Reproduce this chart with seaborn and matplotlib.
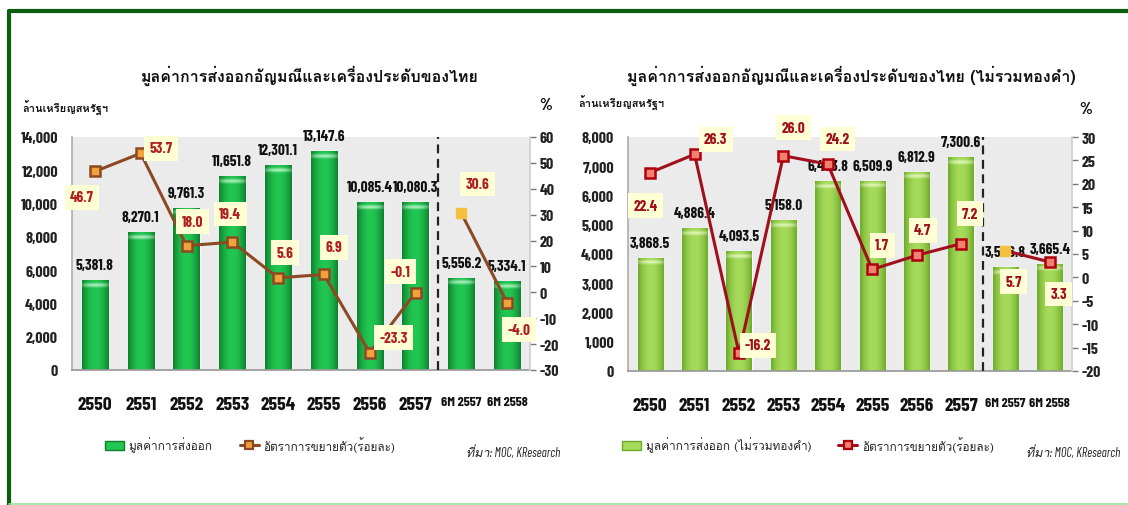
import numpy as np
import pandas as pd
import matplotlib
matplotlib.use("Agg")
import matplotlib.pyplot as plt
import matplotlib.colors as mcolors
import seaborn as sns
from matplotlib import font_manager
from matplotlib.ft2font import FT2Font
from matplotlib.lines import Line2D
from matplotlib.patches import Patch

# ---- data -------------------------------------------------------------
periods = ["2550", "2551", "2552", "2553", "2554", "2555", "2556", "2557",
           "6M 2557", "6M 2558"]
export_all = [5381.8, 8270.1, 9761.3, 11651.8, 12301.1, 13147.6, 10085.4,
              10080.3, 5556.2, 5334.1]
growth_all = [46.7, 53.7, 18.0, 19.4, 5.6, 6.9, -23.3, -0.1, 30.6, -4.0]
export_ex_gold = [3868.5, 4886.4, 4093.5, 5158.0, 6493.8, 6509.9, 6812.9,
                  7300.6, 3546.8, 3665.4]
growth_ex_gold = [22.4, 26.3, -16.2, 26.0, 24.2, 1.7, 4.7, 7.2, 5.7, 3.3]

title_all = "มูลค่าการส่งออกอัญมณีและเครื่องประดับของไทย"
title_ex_gold = "มูลค่าการส่งออกอัญมณีและเครื่องประดับของไทย (ไม่รวมทองคำ)"
unit_label = "ล้านเหรียญสหรัฐฯ"
legend_bar_all = "มูลค่าการส่งออก"
legend_bar_ex_gold = "มูลค่าการส่งออก (ไม่รวมทองคำ)"
legend_line = "อัตราการขยายตัว(ร้อยละ)"
source_note = "ที่มา: MOC, KResearch"

# pixel offsets of the growth-rate tags from their markers
tag_offsets_all = [(-13, -26), (20, 5), (6, 24), (-2, 28), (7, 25), (10, 27),
                   (24, 15), (-15, 21), (16, 29), (12, -27)]
tag_offsets_ex_gold = [(-5, -33), (21, 15), (19, 8), (10, 28), (10, 25),
                       (10, 24), (6, 25), (9, 30), (8, -31), (9, -32)]

sns.set_theme(style="white")


def families_covering(sample):
    names = []
    for entry in font_manager.fontManager.ttflist:
        try:
            cmap = FT2Font(entry.fname).get_charmap()
        except Exception:
            continue
        if all(ord(c) in cmap for c in sample) and entry.name not in names:
            names.append(entry.name)
    return names


def weight_num(w):
    if isinstance(w, (int, float)):
        return w
    return font_manager.weight_dict.get(str(w).lower(), 400)


def first_with_bold(candidates, fallback):
    for name in candidates:
        for e in font_manager.fontManager.ttflist:
            if e.name == name and weight_num(e.weight) >= 600:
                return name
    return fallback


# a Thai-capable family for the Thai captions, a narrow bold family for numbers
thai_fams = families_covering("มูลค่าการส่งออก")
THAI = "Loma" if "Loma" in thai_fams else (thai_fams[0] if thai_fams else "DejaVu Sans")
plt.rcParams["font.family"] = [THAI, "DejaVu Sans"]
NUM_FAM = first_with_bold(["Barlow Condensed", "Liberation Sans Narrow", "Roboto Condensed",
                           "Asap Condensed", "Archivo Narrow"], "DejaVu Sans")
NUM = [NUM_FAM, "DejaVu Sans"]
NUM_W = "bold"

W, H = 1128, 506
fig = plt.figure(figsize=(W / 100, H / 100), dpi=100)
fig.patch.set_facecolor("white")


def fx(px):
    return px / W


def fy(py):
    return 1 - py / H


def shade_bars(ax, edge, mid, top, px_per_unit):
    e = np.array(mcolors.to_rgb(edge))
    m = np.array(mcolors.to_rgb(mid))
    tp = np.array(mcolors.to_rgb(top))
    t = np.linspace(-1, 1, 64)
    prof = 1 - np.abs(t) ** 2
    row = e + (m - e) * prof[:, None]
    for p in list(ax.patches):
        x0, y0, w, h = p.get_x(), p.get_y(), p.get_width(), p.get_height()
        if h <= 0:
            continue
        rows = 300
        img = np.repeat(row[None, :, :], rows, axis=0)
        hpx = h * px_per_unit
        ypx = (np.arange(rows) + 0.5) / rows * hpx
        band = np.clip(1 - np.abs(ypx - 5.0) / 3.0, 0, 1)
        img = img + (tp - img) * band[:, None, None] * (0.3 + 0.7 * prof[None, :, None])
        im = ax.imshow(img, extent=[x0, x0 + w, y0, y0 + h], origin="upper",
                       aspect="auto", zorder=p.get_zorder() + 0.1,
                       interpolation="bilinear")
        im.set_clip_path(p)


def draw_panel(box, values, growth, offsets, cfg):
    left, top, right, bottom = box
    ax = fig.add_axes([fx(left), fy(bottom), fx(right - left), (bottom - top) / H])
    df = pd.DataFrame({"period": periods, "value": values})
    sns.barplot(data=df, x="period", y="value", ax=ax, color=cfg["mid"],
                width=0.57, saturation=1, zorder=2)
    ax.set_facecolor("#EBEBEB")
    ax.set_ylim(0, cfg["ymax"])
    ax.set_xlim(-0.5, len(periods) - 0.5)
    shade_bars(ax, cfg["edge"], cfg["mid"], cfg["top"], (bottom - top) / cfg["ymax"])
    ax.set_xlim(-0.5, len(periods) - 0.5)
    ax.set_ylim(0, cfg["ymax"])
    ax.set_xlabel("")
    ax.set_ylabel("")
    ax.set_yticks(np.arange(0, cfg["ymax"] + 1, cfg["ystep"]))
    ax.set_yticklabels([f"{v:,.0f}" for v in ax.get_yticks()],
                       fontsize=11.5, fontweight=NUM_W, color="#222222", family=NUM)
    ax.set_xticks(range(len(periods)))
    ax.set_xticklabels(periods, fontweight=NUM_W, color="#111111", family=NUM)
    for lab in ax.get_xticklabels():
        lab.set_fontsize(10 if lab.get_text().startswith("6M") else 14)
    ax.tick_params(axis="x", length=0, pad=19)
    ax.tick_params(axis="y", length=0, pad=10)
    for s in ("top", "right"):
        ax.spines[s].set_visible(False)
    ax.spines["left"].set_color("#B0B0B0")
    ax.spines["bottom"].set_color("#9A9A9A")
    ax.axvline(7.5, color="#222222", lw=1.6, ls=(0, (4, 2.5)), zorder=3)

    for i, v in enumerate(values):
        ax.annotate(f"{v:,.1f}", xy=(i, v), xytext=(0, 8), textcoords="offset pixels",
                    ha="center", va="bottom", fontsize=11, fontweight=NUM_W,
                    color="#111111", family=NUM, zorder=4)

    ax2 = ax.twinx()
    ax2.set_ylim(cfg["gmin"], cfg["gmax"])
    ax2.set_yticks(np.arange(cfg["gmin"], cfg["gmax"] + 1, cfg["gstep"]))
    ax2.set_yticklabels([f"{v:.0f}" for v in ax2.get_yticks()],
                        fontsize=11.5, fontweight=NUM_W, color="#222222", family=NUM)
    ax2.tick_params(axis="y", length=4, width=1, color="#777777", direction="out", pad=3)
    for s in ("top", "left", "bottom"):
        ax2.spines[s].set_visible(False)
    ax2.spines["right"].set_color("#D0D0D0")

    x = np.arange(len(periods))
    g = np.array(growth)
    sns.lineplot(x=x[:8], y=g[:8], ax=ax2, color=cfg["line"], lw=2.2, zorder=3)
    sns.lineplot(x=x[8:], y=g[8:], ax=ax2, color=cfg["line"], lw=2.2, zorder=3)
    main_idx = list(range(8)) + [9]
    ax2.plot(x[main_idx], g[main_idx], ls="none", marker="s", ms=6.5,
             mfc=cfg["mface"], mec=cfg["medge"], mew=1.8, zorder=5)
    ax2.plot(x[8:9], g[8:9], ls="none", marker="s", ms=7, mfc="#F4C03E",
             mec="#F4C03E", zorder=5)
    ax2.set_xlim(-0.5, len(periods) - 0.5)

    for i, (v, (dx, dy)) in enumerate(zip(growth, offsets)):
        ax2.annotate(f"{v:.1f}", xy=(i, v), xytext=(dx, dy), textcoords="offset pixels",
                     ha="center", va="center", fontsize=11, fontweight=NUM_W,
                     color=cfg["tag"], family=NUM, zorder=6,
                     bbox=dict(boxstyle="square,pad=0.35", fc="#FFFFD6", ec="none"))
    return ax, ax2


cfg_all = dict(ymax=14000, ystep=2000, gmin=-30, gmax=60, gstep=10,
               edge="#0E7F2E", mid="#22C752", top="#B8F5C8",
               line="#8B4A24", mface="#F2A23A", medge="#8B4A24", tag="#B01E1E")
cfg_ex = dict(ymax=8000, ystep=1000, gmin=-20, gmax=30, gstep=5,
              edge="#6DAA2A", mid="#A6DA5A", top="#E4F8C0",
              line="#A0101C", mface="#F08070", medge="#B00010", tag="#A0101C")

draw_panel((72, 138, 530, 371), export_all, growth_all, tag_offsets_all, cfg_all)
draw_panel((628, 138, 1072, 372), export_ex_gold, growth_ex_gold, tag_offsets_ex_gold, cfg_ex)

# titles and axis captions
fig.text(fx(310), fy(76), title_all, ha="center", va="center", fontsize=11.5, fontweight="bold", color="#111111")
fig.text(fx(851), fy(76), title_ex_gold, ha="center", va="center", fontsize=11.5, fontweight="bold", color="#111111")
fig.text(fx(22), fy(108), unit_label, ha="left", va="center", fontsize=8, fontweight="bold", color="#111111")
fig.text(fx(578), fy(103), unit_label, ha="left", va="center", fontsize=8, fontweight="bold", color="#111111")
fig.text(fx(546), fy(106), "%", ha="center", va="center", fontsize=12, fontweight=NUM_W, color="#111111", family=NUM)
fig.text(fx(1086), fy(110), "%", ha="center", va="center", fontsize=12, fontweight=NUM_W, color="#111111", family=NUM)

# legends
for cx, label, cfg in ((250, legend_bar_all, cfg_all), (808, legend_bar_ex_gold, cfg_ex)):
    handles = [Patch(facecolor=cfg["mid"], edgecolor=cfg["edge"]),
               Line2D([0], [0], color=cfg["line"], lw=2.2, marker="s", ms=6,
                      mfc=cfg["mface"], mec=cfg["medge"], mew=1.6)]
    fig.legend(handles, [label, legend_line], loc="center", bbox_to_anchor=(fx(cx), fy(445)),
               ncol=2, frameon=False, fontsize=8.5, handlelength=1.6, handletextpad=0.4,
               columnspacing=2.3)

src_fam = [NUM_FAM, THAI, "DejaVu Sans"]
fig.text(fx(560), fy(453), source_note, ha="right", va="center", fontsize=9, style="italic", color="#222222", family=src_fam)
fig.text(fx(1120), fy(453), source_note, ha="right", va="center", fontsize=9, style="italic", color="#222222", family=src_fam)

# frame
fig.add_artist(Line2D([fx(9), 1], [fy(11.5), fy(11.5)], color="#0B5E0B", lw=3, transform=fig.transFigure))
fig.add_artist(Line2D([fx(9), fx(9)], [fy(11.5), 0], color="#0B5E0B", lw=3, transform=fig.transFigure))
fig.add_artist(Line2D([fx(9), 1], [fy(505), fy(505)], color="#9BE39B", lw=1.2, transform=fig.transFigure))

fig.savefig("out.png", dpi=100)
